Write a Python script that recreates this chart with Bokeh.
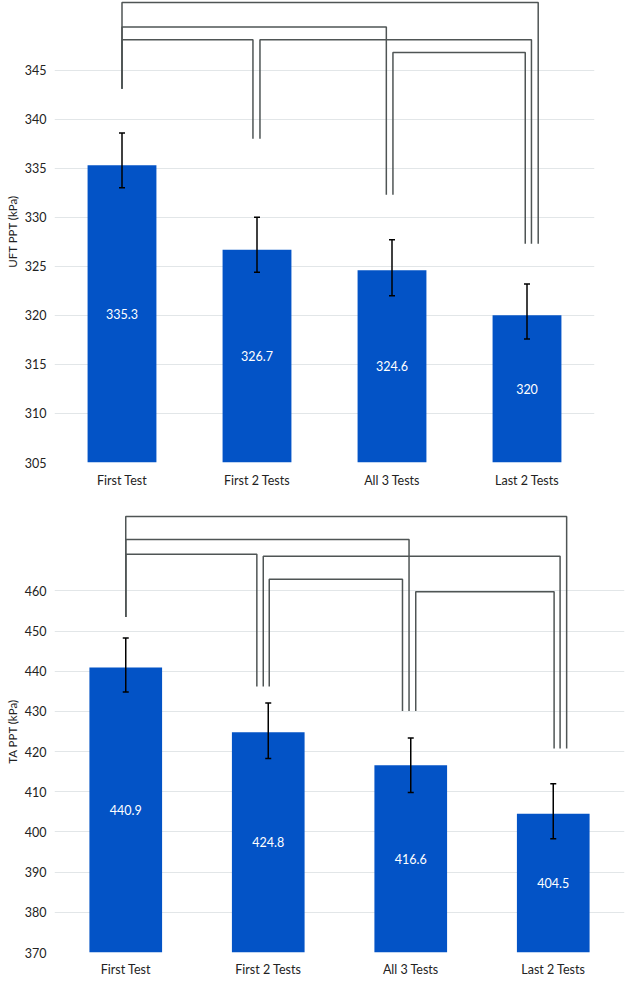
from bokeh.plotting import figure
from bokeh.models import (ColumnDataSource, Range1d, FixedTicker, Whisker, TeeHead)
from bokeh.layouts import column
from bokeh.core.properties import value
from bokeh.embed import file_html
from bokeh.resources import INLINE

# ---------------- data ----------------
categories = ["First Test", "First 2 Tests", "All 3 Tests", "Last 2 Tests"]

uft_mean = [335.3, 326.7, 324.6, 320.0]
uft_upper = [338.6, 330.0, 327.7, 323.2]
uft_lower = [333.0, 324.4, 322.0, 317.6]
uft_ticks = [305, 310, 315, 320, 325, 330, 335, 340, 345]

ta_mean = [440.9, 424.8, 416.6, 404.5]
ta_upper = [448.3, 432.1, 423.4, 412.0]
ta_lower = [434.8, 418.3, 409.8, 398.3]
ta_ticks = [370, 380, 390, 400, 410, 420, 430, 440, 450, 460]

# significance brackets: (left idx, right idx, bar level, left leg end, right leg end)
uft_pairs = [(0, 3), (0, 2), (0, 1), (1, 3), (2, 3)]
uft_levels = [351.9, 349.4, 348.1, 348.1, 346.8]
uft_left_end = [343.1, 343.1, 343.1, 338.0, 332.3]
uft_right_end = [327.3, 332.3, 338.0, 327.3, 327.3]

ta_pairs = [(0, 3), (0, 2), (0, 1), (1, 3), (1, 2), (2, 3)]
ta_levels = [478.5, 472.8, 469.1, 468.6, 462.9, 459.8]
ta_left_end = [453.5, 453.5, 453.5, 436.2, 436.2, 430.1]
ta_right_end = [420.8, 430.1, 436.2, 420.8, 430.1, 420.8]

# small horizontal offsets of bracket legs (category units), so legs don't overlap
uft_left_off = [0.0, 0.0, 0.0, 0.022, 0.007]
uft_right_off = [0.083, -0.042, -0.03, 0.033, -0.013]
ta_left_off = [0.0, 0.0, 0.0, -0.035, 0.007, 0.035]
ta_right_off = [0.094, -0.012, -0.08, 0.048, -0.058, 0.006]

BAR = "#0353C6"
BRACKET = "#4f5555"
FONT = "Lato"


def make_chart(mean, upper, lower, ticks, y0, y1, ylabel, pairs, levels,
               left_end, right_end, left_off, right_off,
               frame_w, frame_h, border_left, border_top, border_bottom,
               x_standoff):
    xs = [i + 0.5 for i in range(len(categories))]
    p = figure(x_range=Range1d(0, len(categories)), y_range=Range1d(y0, y1),
               frame_width=frame_w, frame_height=frame_h,
               min_border_left=border_left, min_border_right=4,
               min_border_top=border_top, min_border_bottom=border_bottom,
               output_backend="svg", toolbar_location=None)
    p.outline_line_color = None
    p.background_fill_color = "white"
    p.xgrid.grid_line_color = None
    p.ygrid.grid_line_color = "#e2e6e8"
    p.ygrid.grid_line_width = 1

    src = ColumnDataSource(dict(
        x=xs, mean=mean, upper=upper, lower=lower,
        mid=[(y0 + m) / 2 for m in mean],
        lab=[f"{m:g}" for m in mean]))

    p.vbar(x="x", top="mean", bottom=y0, width=0.51, source=src,
           fill_color=BAR, line_color=None)
    p.text(x="x", y="mid", text="lab", source=src, text_color="white",
           text_align="center", text_baseline="middle",
           text_font=value(FONT), text_font_size="12.5px")

    w = Whisker(source=src, base="x", upper="upper", lower="lower",
                line_color="black", line_width=1.5, level="overlay",
                upper_head=TeeHead(size=6, line_color="black", line_width=1.5),
                lower_head=TeeHead(size=6, line_color="black", line_width=1.5))
    p.add_layout(w)

    bx, by = [], []
    for (i, j), lv, le, re, lo, ro in zip(pairs, levels, left_end, right_end,
                                          left_off, right_off):
        xl = xs[i] + lo
        xr = xs[j] + ro
        bx.append([xl, xl, xr, xr])
        by.append([le, lv, lv, re])
    p.multi_line(xs=bx, ys=by, line_color=BRACKET, line_width=1.5)

    p.xaxis.ticker = FixedTicker(ticks=xs)
    p.xaxis.major_label_overrides = {x: c for x, c in zip(xs, categories)}
    p.yaxis.ticker = FixedTicker(ticks=ticks)
    for ax in (p.xaxis, p.yaxis):
        ax.axis_line_color = None
        ax.major_tick_line_color = None
        ax.minor_tick_line_color = None
        ax.major_tick_out = 0
        ax.major_tick_in = 0
        ax.minor_tick_out = 0
        ax.major_label_text_font = FONT
        ax.major_label_text_font_size = "12.5px"
        ax.major_label_text_color = "#222222"
    p.xaxis.major_label_standoff = x_standoff
    p.yaxis.major_label_standoff = 8
    p.yaxis.axis_label = ylabel
    p.yaxis.axis_label_text_font = FONT
    p.yaxis.axis_label_text_font_size = "11.5px"
    p.yaxis.axis_label_text_font_style = "normal"
    p.yaxis.axis_label_text_color = "#222222"
    p.yaxis.axis_label_standoff = 3
    return p


p1 = make_chart(uft_mean, uft_upper, uft_lower, uft_ticks, 305, 352.1,
                "UFT PPT (kPa)", uft_pairs, uft_levels, uft_left_end,
                uft_right_end, uft_left_off, uft_right_off,
                frame_w=540, frame_h=462, border_left=44, border_top=0,
                border_bottom=25, x_standoff=10)
p2 = make_chart(ta_mean, ta_upper, ta_lower, ta_ticks, 370, 480,
                "TA PPT (kPa)", ta_pairs, ta_levels, ta_left_end,
                ta_right_end, ta_left_off, ta_right_off,
                frame_w=570, frame_h=442, border_left=54, border_top=20,
                border_bottom=24, x_standoff=9)

layout = column(p1, p2, spacing=0)

with open("out.html", "w") as f:
    f.write(file_html(layout, INLINE))
